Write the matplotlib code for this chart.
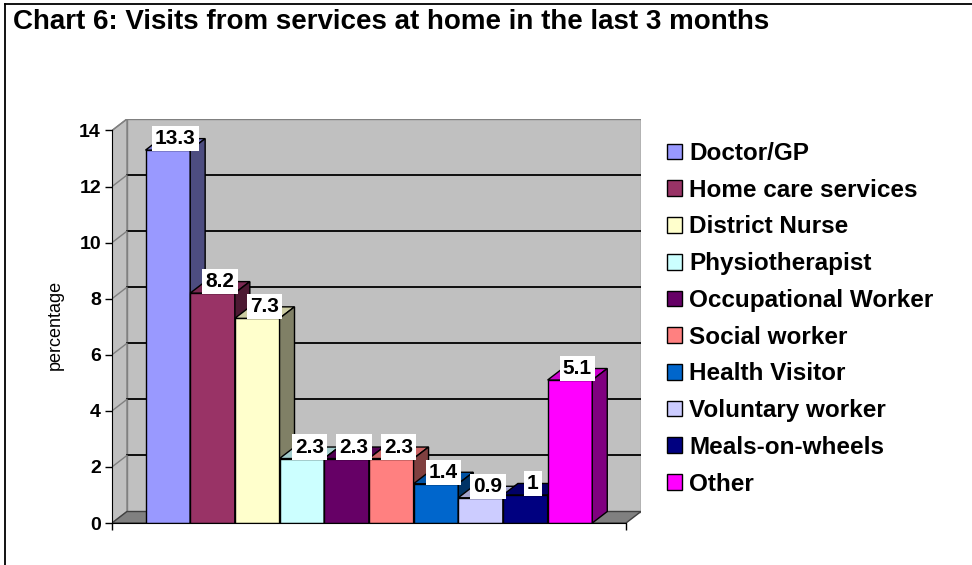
import matplotlib
matplotlib.use("Agg")
import matplotlib.pyplot as plt
from matplotlib.patches import Polygon, Rectangle
from matplotlib.lines import Line2D

plt.rcParams['font.family'] = ['Liberation Sans', 'DejaVu Sans']

# data
services = ['Doctor/GP', 'Home care services', 'District Nurse', 'Physiotherapist',
            'Occupational Worker', 'Social worker', 'Health Visitor',
            'Voluntary worker', 'Meals-on-wheels', 'Other']
percent = [13.3, 8.2, 7.3, 2.3, 2.3, 2.3, 1.4, 0.9, 1, 5.1]
colors = ['#9999FF', '#993366', '#FFFFCC', '#CCFFFF', '#660066',
          '#FF8080', '#0066CC', '#CCCCFF', '#000080', '#FF00FF']
yticks = [0, 2, 4, 6, 8, 10, 12, 14]

# fake 3D depth (x in bar widths, y in percentage units)
DX, DY = 0.335, 0.41
X0, X1 = -0.75, len(percent) + 0.755
YMAX = yticks[-1]


def shade(c, f):
    r, g, b = matplotlib.colors.to_rgb(c)
    return (r * f, g * f, b * f)


fig = plt.figure(figsize=(9.72, 5.65), dpi=100)
ax = fig.add_axes([112 / 972, 42 / 565, 529 / 972, 404 / 565])
ax.set_xlim(X0, X1 + DX)
ax.set_ylim(0, YMAX + DY)
ax.patch.set_visible(False)

# walls and floor
wall = '#C0C0C0'
ax.add_patch(Rectangle((X0 + DX, DY), X1 - X0, YMAX, fc=wall, ec='#808080', lw=1, zorder=0))
ax.add_patch(Polygon([(X0, 0), (X0 + DX, DY), (X0 + DX, YMAX + DY), (X0, YMAX)],
                     closed=True, fc=wall, ec='#808080', lw=1, zorder=0))
ax.add_patch(Polygon([(X0, 0), (X1, 0), (X1 + DX, DY), (X0 + DX, DY)],
                     closed=True, fc='#808080', ec='#404040', lw=1, zorder=0.5))
for t in yticks[1:]:
    if t < YMAX:
        ax.plot([X0 + DX, X1 + DX], [t + DY, t + DY], color='black', lw=1.3, zorder=0.6)
    ax.plot([X0, X0 + DX], [t, t + DY], color='#808080', lw=1, zorder=0.6)

# bars: front, top, side
for i, (v, c, name) in enumerate(zip(percent, colors, services)):
    z = 2 + i * 0.01
    ax.bar(i, v, width=1, align='edge', color=c, edgecolor='black', lw=1,
           label=name, zorder=z)
    ax.add_patch(Polygon([(i, v), (i + 1, v), (i + 1 + DX, v + DY), (i + DX, v + DY)],
                         closed=True, fc=shade(c, 0.8), ec='black', lw=1, zorder=z))
    ax.add_patch(Polygon([(i + 1, 0), (i + 1 + DX, DY), (i + 1 + DX, v + DY), (i + 1, v)],
                         closed=True, fc=shade(c, 0.5), ec='black', lw=1, zorder=z))

for i, v in enumerate(percent):
    ax.text(i + 0.5 + DX / 2, v + DY, f'{v:g}', ha='center', va='center',
            fontsize=15, fontweight='bold', zorder=10,
            bbox=dict(boxstyle='square,pad=0.15', fc='white', ec='none'))

# axes lines
for s in ['top', 'right']:
    ax.spines[s].set_visible(False)
ax.spines['left'].set_bounds(0, YMAX)
ax.spines['bottom'].set_bounds(X0, X1)
ax.spines['left'].set_position(('data', X0))
ax.set_yticks(yticks)
ax.set_yticklabels([str(t) for t in yticks], fontsize=14, fontweight='bold')
ax.set_xticks([X0, X1])
ax.set_xticklabels([])
ax.tick_params(direction='out', length=5, width=1, pad=3)

fig.text(55 / 972, 1 - 325 / 565, 'percentage', rotation=90, ha='center', va='center',
         fontsize=13)
fig.text(13 / 972, 1 - 22 / 565, 'Chart 6: Visits from services at home in the last 3 months',
         ha='left', va='center', fontsize=20, fontweight='bold')

fig.legend(loc='upper left', bbox_to_anchor=(667 / 972, 1 - 142 / 565), frameon=False,
           prop={'size': 17.5, 'weight': 'bold'}, handlelength=0.62, handleheight=0.62,
           handletextpad=0.3, labelspacing=0.565, borderaxespad=0, borderpad=0)

# outer frame (only top and left visible)
fig.add_artist(Line2D([5 / 972, 5 / 972], [0, 1 - 4 / 565], color='black', lw=1.3,
                      transform=fig.transFigure))
fig.add_artist(Line2D([5 / 972, 1], [1 - 4 / 565, 1 - 4 / 565], color='black', lw=1.3,
                      transform=fig.transFigure))

fig.savefig('out.png', dpi=100)
